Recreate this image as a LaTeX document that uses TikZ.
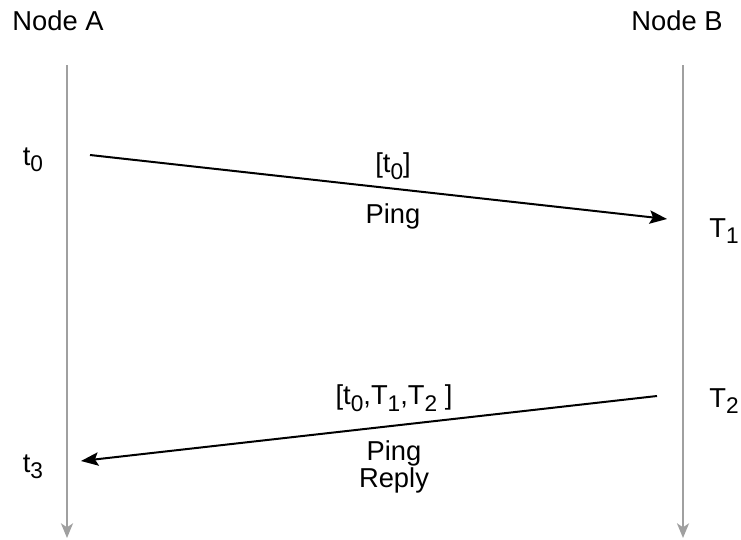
\documentclass[tikz,border=0pt]{standalone}
\usepackage{fontspec}
\setmainfont{Liberation Sans}
\usetikzlibrary{arrows.meta}

\newcommand{\lo}[1]{\raisebox{-0.45ex}{\fontsize{17}{17}\selectfont #1}}
\definecolor{lifegray}{RGB}{160,160,160}

\tikzset{
  life/.style={draw=lifegray, line width=1.6pt, -{Stealth[length=11pt,width=9pt,inset=3pt]}},
  msg/.style={draw=black, line width=1.5pt, -{Stealth[length=13pt,width=10pt,inset=2.5pt]}},
  lbl/.style={inner sep=0pt, align=center, font=\fontsize{20.5}{20.5}\selectfont}
}

\begin{document}
\begin{tikzpicture}[x=0.75pt,y=-0.75pt]
	\useasboundingbox (0,0) rectangle (741,539);
	% lifelines
	\coordinate (A0) at (67,65);
	\coordinate (A1) at (67,538);
	\coordinate (B0) at (683,65);
	\coordinate (B1) at (683,538);
	\node[lbl] (nA) at (58,21) {Node A};
	\node[lbl] (nB) at (677,21) {Node B};
	\draw[life] (A0)--(A1);
	\draw[life] (B0)--(B1);

	% ping
	\coordinate (P0) at (90,155);
	\coordinate (P1) at (667,219);
	\node[lbl] (t0) at (33,160) {t\lo{0}};
	\node[lbl] (T1) at (724,231) {T\lo{1}};
	\draw[msg] (P0)--(P1);
	\node[lbl] (s0) at (393,166) {[t\lo{0}]};
	\node[lbl] (ping) at (393,216) {Ping};

	% reply
	\coordinate (R0) at (657,396);
	\coordinate (R1) at (81,461);
	\node[lbl] (T2) at (724,401) {T\lo{2}};
	\node[lbl] (t3) at (33,467) {t\lo{3}};
	\draw[msg] (R0)--(R1);
	\node[lbl] (s1) at (394,398) {[t\lo{0},T\lo{1},T\lo{2} ]};
	\node[lbl] (reply) at (394,467) {Ping\\Reply};
\end{tikzpicture}
\end{document}
